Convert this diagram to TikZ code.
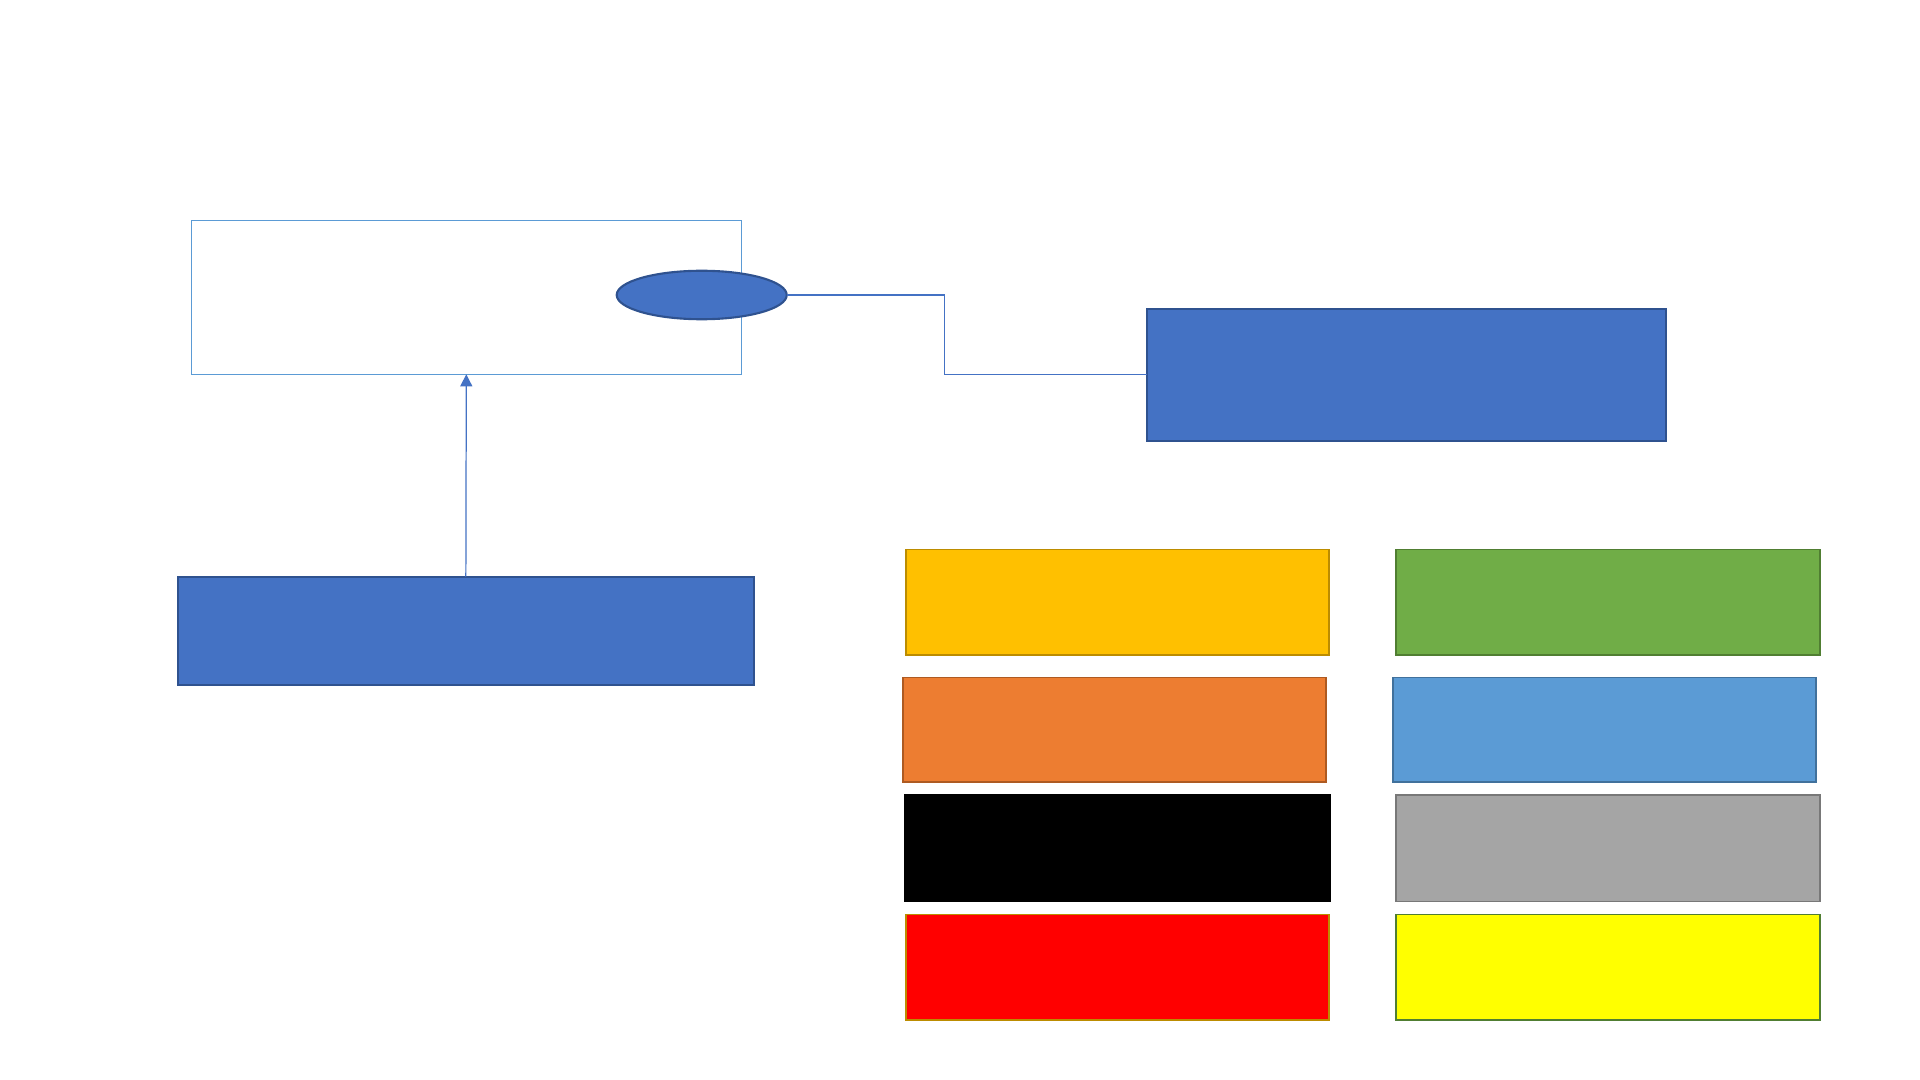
\documentclass[tikz,border=0pt]{standalone}
\usetikzlibrary{shapes.geometric,arrows.meta}
\definecolor{obl}{HTML}{4472C4}
\definecolor{obld}{HTML}{2F528F}
\definecolor{olb}{HTML}{5B9BD5}
\definecolor{olbd}{HTML}{41719C}
\definecolor{ogold}{HTML}{FFC000}
\definecolor{ogoldd}{HTML}{BC8C00}
\definecolor{ogr}{HTML}{70AD47}
\definecolor{ogrd}{HTML}{507E32}
\definecolor{oor}{HTML}{ED7D31}
\definecolor{oord}{HTML}{AE5A21}
\definecolor{ogy}{HTML}{A5A5A5}
\definecolor{ogyd}{HTML}{787878}
\definecolor{ored}{HTML}{FF0000}
\definecolor{oyel}{HTML}{FFFF00}
\definecolor{oblk}{HTML}{000000}
\tikzset{
  rbox/.style={rectangle, inner sep=0pt, outer sep=0pt},
  bluebox/.style={rbox, fill=obl, draw=obld, line width=0.6pt},
  cbox/.style={rbox, line width=0.45pt, minimum width=4.233cm, minimum height=1.053cm},
  conn/.style={draw=obl, line width=0.35pt}
}
\begin{document}
\begin{tikzpicture}
\useasboundingbox[fill=white] (0,0) rectangle (19.2,-10.8);
% top box
\node[rbox, draw=olb, line width=0.4pt, minimum width=5.5cm, minimum height=1.54cm] (tb) at (4.663,-2.973) {};
\node[ellipse, inner sep=0pt, outer sep=0pt, fill=obl, draw=obld, line width=0.6pt, minimum width=1.70cm, minimum height=0.485cm] (el) at (7.017,-2.95) {};
% right blue box
\node[bluebox, minimum width=5.193cm, minimum height=1.317cm] (rb) at (14.063,-3.7485) {};
% bottom blue box
\node[bluebox, minimum width=5.763cm, minimum height=1.083cm] (bb) at (4.6585,-6.3085) {};
% connectors
\coordinate (k) at (9.443,-3.7485);
\draw[conn] (el.east) -| (k) -- (rb.west);
\draw[conn, -{Triangle[width=0.12cm,length=0.12cm]}] (bb.north) -- (tb.south);
% colour boxes
\node[cbox, fill=ogold, draw=ogoldd] (gold) at (11.1735,-6.0235) {};
\node[cbox, fill=ogr, draw=ogrd, minimum width=4.243cm] (green) at (16.0785,-6.0235) {};
\node[cbox, fill=oor, draw=oord, minimum height=1.043cm] (orange) at (11.1435,-7.2985) {};
\node[cbox, fill=olb, draw=olbd, minimum height=1.043cm] (lblue) at (16.0435,-7.2985) {};
\node[cbox, fill=oblk, draw=oblk, minimum width=4.25cm, minimum height=1.067cm] (blk) at (11.175,-8.4835) {};
\node[cbox, fill=ogy, draw=ogyd, minimum width=4.243cm, minimum height=1.067cm] (gray) at (16.0785,-8.4835) {};
\node[cbox, fill=ored, draw=ogoldd, minimum height=1.057cm] (rd) at (11.1735,-9.6715) {};
\node[cbox, fill=oyel, draw=ogrd, minimum width=4.243cm, minimum height=1.057cm] (yl) at (16.0785,-9.6715) {};
\end{tikzpicture}
\end{document}
